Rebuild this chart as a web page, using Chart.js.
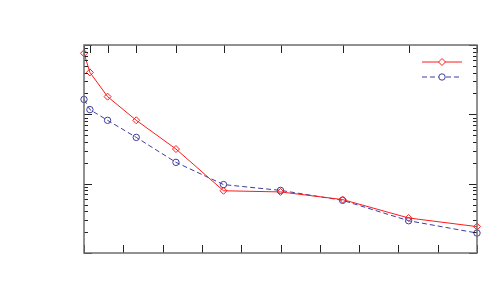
<!DOCTYPE html>
<html>
<head>
<meta charset="utf-8">
<script src="https://cdn.jsdelivr.net/npm/chart.js@4/dist/chart.umd.min.js"></script>
<style>
  html, body { margin: 0; padding: 0; background: #fff; }
  #wrap { width: 500px; height: 300px; }
</style>
</head>
<body>
<div id="wrap"><canvas id="chart" width="500" height="300"></canvas></div>
<script>
// data (x linear 0..10, y log 1..1000)
const xValues = [0, 0.15, 0.6, 1.33, 2.34, 3.55, 5.0, 6.58, 8.26, 10];
const redValues = [760, 403, 180, 82, 31.6, 7.9, 7.6, 5.9, 3.2, 2.4];
const blueValues = [164, 117, 82, 46.5, 20.3, 9.7, 8.0, 5.75, 2.92, 1.94];
const xTicks = [0, 1, 2, 3, 4, 5, 6, 7, 8, 9, 10];
const yMajorTicks = [1, 10, 100, 1000];

const RED = '#ff1a1a';
const BLUE = '#3c3ca0';

const yMinorTicks = [];
yMajorTicks.slice(0, -1).forEach(d => {
  for (let k = 2; k <= 9; k++) yMinorTicks.push(d * k);
});

const toPoints = vals => vals.map((v, i) => ({ x: xValues[i], y: v }));

// gnuplot-like frame with inward ticks on all four sides
const framePlugin = {
  id: 'frame',
  afterDatasetsDraw(chart) {
    const { ctx, chartArea: a, scales } = chart;
    const x = scales.x, y = scales.y;
    ctx.save();
    ctx.strokeStyle = '#222';
    ctx.lineWidth = 1;
    ctx.beginPath();
    xTicks.forEach(t => {
      const px = Math.round(x.getPixelForValue(t)) + 0.5;
      ctx.moveTo(px, a.bottom); ctx.lineTo(px, a.bottom - 8);
    });
    xValues.forEach(t => {
      const px = Math.round(x.getPixelForValue(t)) + 0.5;
      ctx.moveTo(px, a.top); ctx.lineTo(px, a.top + 8);
    });
    yMajorTicks.forEach(t => {
      const py = Math.round(y.getPixelForValue(t)) + 0.5;
      ctx.moveTo(a.left, py); ctx.lineTo(a.left + 8, py);
      ctx.moveTo(a.right, py); ctx.lineTo(a.right - 8, py);
    });
    yMinorTicks.forEach(t => {
      const py = Math.round(y.getPixelForValue(t)) + 0.5;
      ctx.moveTo(a.left, py); ctx.lineTo(a.left + 4, py);
      ctx.moveTo(a.right, py); ctx.lineTo(a.right - 4, py);
    });
    ctx.stroke();
    ctx.strokeStyle = '#6e6e6e';
    ctx.lineWidth = 1.5;
    ctx.strokeRect(a.left, a.top, a.right - a.left, a.bottom - a.top);
    ctx.restore();
  }
};

// key samples (no text in the reference)
const keyPlugin = {
  id: 'key',
  afterDatasetsDraw(chart) {
    const { ctx } = chart;
    const x0 = 422, x1 = 462, xm = 442;
    ctx.save();
    ctx.lineWidth = 1;
    ctx.strokeStyle = RED;
    ctx.beginPath(); ctx.moveTo(x0, 62); ctx.lineTo(x1, 62); ctx.stroke();
    ctx.fillStyle = '#fff';
    ctx.beginPath();
    ctx.moveTo(xm, 58.5); ctx.lineTo(xm + 3.5, 62); ctx.lineTo(xm, 65.5); ctx.lineTo(xm - 3.5, 62); ctx.closePath();
    ctx.fill(); ctx.stroke();
    ctx.strokeStyle = BLUE;
    ctx.setLineDash([5, 3]);
    ctx.beginPath(); ctx.moveTo(x0, 77); ctx.lineTo(x1, 77); ctx.stroke();
    ctx.setLineDash([]);
    ctx.beginPath(); ctx.arc(xm, 77, 3.2, 0, Math.PI * 2); ctx.fill(); ctx.stroke();
    ctx.restore();
  }
};

new Chart(document.getElementById('chart'), {
  type: 'line',
  data: {
    datasets: [
      {
        data: toPoints(redValues),
        borderColor: RED,
        borderWidth: 1,
        pointStyle: 'rectRot',
        pointRadius: 3.5,
        pointBackgroundColor: 'rgba(255,255,255,0)',
        pointBorderColor: RED,
        pointBorderWidth: 1
      },
      {
        data: toPoints(blueValues),
        borderColor: BLUE,
        borderWidth: 1,
        borderDash: [5, 3],
        pointStyle: 'circle',
        pointRadius: 3.2,
        pointBackgroundColor: 'rgba(255,255,255,0)',
        pointBorderColor: BLUE,
        pointBorderWidth: 1
      }
    ]
  },
  options: {
    responsive: false,
    animation: false,
    clip: false,
    layout: { padding: { left: 84, right: 23, top: 45, bottom: 47 } },
    plugins: { legend: { display: false }, tooltip: { enabled: false } },
    scales: {
      x: { type: 'linear', min: 0, max: 10, display: false },
      y: { type: 'logarithmic', min: 1, max: 1000, display: false }
    }
  },
  plugins: [framePlugin, keyPlugin]
});
</script>
</body>
</html>
